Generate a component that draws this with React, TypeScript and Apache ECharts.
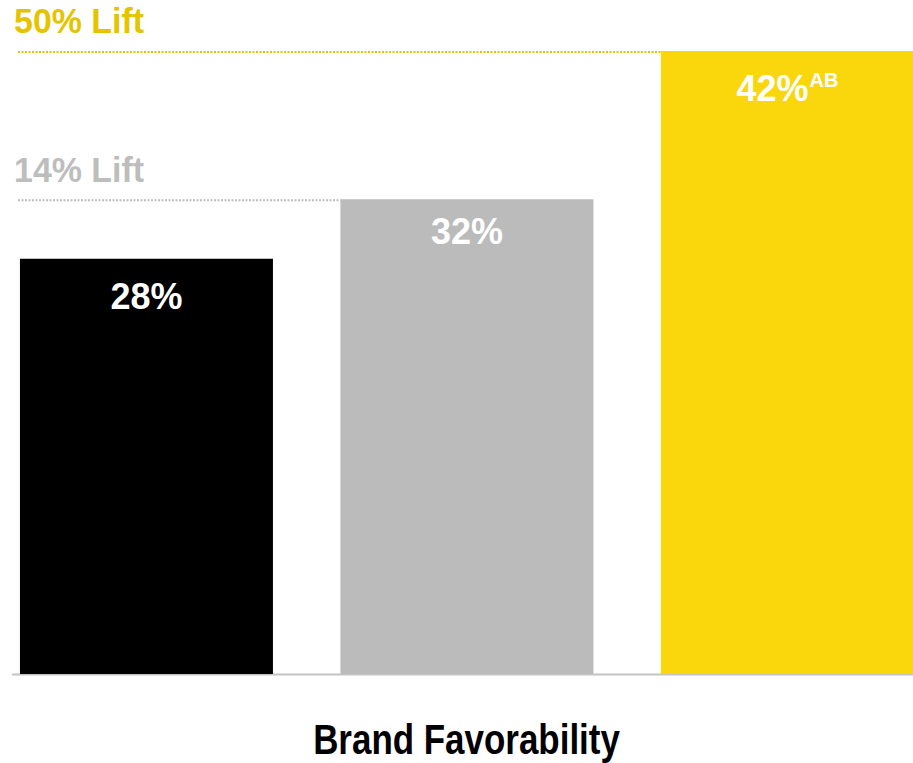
import React, { useEffect, useRef } from 'react';
import * as echarts from 'echarts';

const categories = ['Control', 'Exposed A', 'Exposed B'];
const positions = [0, 1, 2];
const values = [28, 32, 42];
const valueLabels = ['28%', '32%', '42%'];
const superscripts = ['', '', 'AB'];
const liftLabels = ['14% Lift', '50% Lift'];
const liftTargets = [1, 2];
const barColors = ['#000000', '#BBBBBB', '#FAD70D'];
const liftColors = ['#BDBDBD', '#E6C300'];
const chartTitle = 'Brand Favorability';
const labelDistances = [20, 14, 19];

export default function App() {
  const ref = useRef<HTMLDivElement>(null);
  useEffect(() => {
    document.body.style.margin = '0';
    const chart = echarts.init(ref.current!, null, { renderer: 'svg' });
    const bold = "'Liberation Sans', Arial, sans-serif";
    const barWidth = 253;
    chart.setOption({
      animation: false,
      grid: { left: 0, right: 0, top: 6.5, bottom: 89 },
      xAxis: {
        type: 'value',
        min: -0.457,
        max: 2.392,
        show: false,
        splitLine: { show: false },
      },
      yAxis: { type: 'value', min: 0, max: 45, show: false },
      series: [
        {
          type: 'bar',
          name: 'Brand Favorability',
          barWidth,
          data: values.map((v, i) => ({
            name: categories[i],
            value: [positions[i], v],
            itemStyle: { color: barColors[i] },
            label: {
              distance: labelDistances[i],
              formatter: superscripts[i]
                ? `{v|${valueLabels[i]}}{s|${superscripts[i]}}`
                : `{v|${valueLabels[i]}}`,
            },
          })),
          label: {
            show: true,
            position: 'insideTop',
            rich: {
              v: { fontFamily: bold, fontWeight: 'bold', fontSize: 36, lineHeight: 36, color: '#fff' },
              s: { fontFamily: bold, fontWeight: 'bold', fontSize: 20, lineHeight: 20, color: '#fff', verticalAlign: 'top', padding: [0, 0, 0, 1] },
            },
          },
        },
      ],
    });

    const zeroY = chart.convertToPixel({ yAxisIndex: 0 }, 0) as number;
    const graphics: any[] = [
      {
        type: 'line',
        shape: { x1: 12, y1: zeroY + 0.5, x2: 913, y2: zeroY + 0.5 },
        style: { stroke: '#C4C4C4', lineWidth: 2 },
      },
      {
        type: 'text',
        x: 466.5,
        y: 739,
        scaleX: 0.832,
        style: {
          text: chartTitle,
          fontFamily: bold,
          fontWeight: 'bold',
          fontSize: 42,
          fill: '#000',
          align: 'center',
          verticalAlign: 'middle',
        },
      },
    ];
    liftTargets.forEach((ci, k) => {
      const y = chart.convertToPixel({ yAxisIndex: 0 }, values[ci]) as number;
      const xc = chart.convertToPixel({ xAxisIndex: 0 }, positions[ci]) as number;
      const xEnd = xc - barWidth / 2;
      graphics.push({
        type: 'line',
        shape: { x1: 18, y1: y + 1, x2: xEnd, y2: y + 1 },
        style: { stroke: liftColors[k], lineWidth: 2, lineDash: [2, 1.5] },
      });
      graphics.push({
        type: 'text',
        x: 14,
        y: y - 30,
        scaleX: 0.97,
        style: {
          text: liftLabels[k],
          fontFamily: bold,
          fontWeight: 'bold',
          fontSize: 35,
          fill: liftColors[k],
          align: 'left',
          verticalAlign: 'middle',
        },
      });
    });
    chart.setOption({ graphic: graphics });
    return () => chart.dispose();
  }, []);
  return <div ref={ref} style={{ width: 913, height: 763 }} />;
}
